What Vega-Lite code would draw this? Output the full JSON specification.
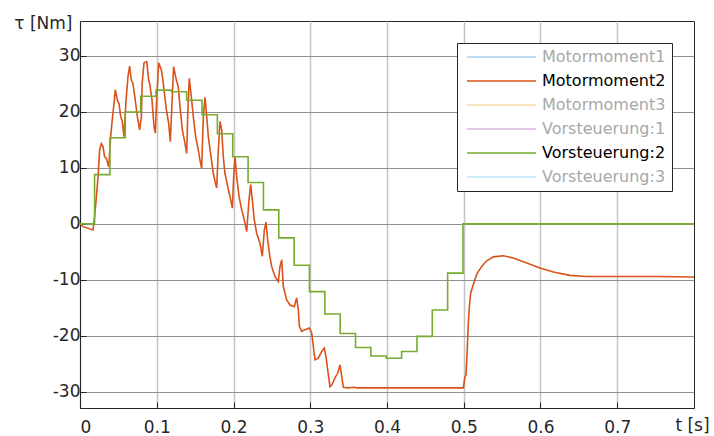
{
  "$schema": "https://vega.github.io/schema/vega-lite/v6.json",
  "width": 614,
  "height": 387,
  "autosize": {"type": "none"},
  "padding": {"left": 80, "top": 21, "right": 20, "bottom": 28},
  "background": "white",
  "config": {
    "font": "DejaVu Sans",
    "view": {"stroke": "#262626", "strokeWidth": 1},
    "axis": {
      "labelFont": "DejaVu Sans", "labelFontSize": 17, "labelColor": "#262626",
      "titleFont": "DejaVu Sans", "titleFontSize": 17, "titleFontWeight": "normal", "titleColor": "#262626",
      "domainColor": "#262626", "domainWidth": 1, "tickColor": "#262626", "tickWidth": 1
    }
  },
  "datasets": {
    "motor": [
      {"t":0,"v":0.1},{"t":0.004,"v":-0.5},{"t":0.017,"v":-1.1},{"t":0.019,"v":1.3},{"t":0.021,"v":4.3},
      {"t":0.0235,"v":8.4},{"t":0.0256,"v":13.2},{"t":0.0278,"v":14.3},{"t":0.030,"v":13.8},{"t":0.032,"v":12.0},
      {"t":0.0343,"v":11.7},{"t":0.0374,"v":10.2},{"t":0.040,"v":15.6},{"t":0.042,"v":18.6},{"t":0.0443,"v":21.5},
      {"t":0.046,"v":24.0},{"t":0.0486,"v":22.1},{"t":0.0508,"v":21.5},{"t":0.053,"v":19.2},{"t":0.0551,"v":18.3},
      {"t":0.0573,"v":15.6},{"t":0.060,"v":22.1},{"t":0.0625,"v":26.3},{"t":0.0647,"v":28.2},{"t":0.0668,"v":25.7},
      {"t":0.069,"v":25.1},{"t":0.072,"v":22.1},{"t":0.0747,"v":19.2},{"t":0.0777,"v":16.8},{"t":0.080,"v":19.2},
      {"t":0.081,"v":25.1},{"t":0.0834,"v":28.8},{"t":0.0869,"v":29.0},{"t":0.0895,"v":25.7},{"t":0.0908,"v":25.1},
      {"t":0.0938,"v":22.1},{"t":0.0964,"v":17.4},{"t":0.0981,"v":16.2},{"t":0.0999,"v":22.1},{"t":0.1025,"v":28.8},
      {"t":0.106,"v":27.5},{"t":0.108,"v":25.7},{"t":0.1125,"v":20.4},{"t":0.1155,"v":18.0},{"t":0.1177,"v":14.7},
      {"t":0.120,"v":22.1},{"t":0.122,"v":28.1},{"t":0.1255,"v":25.7},{"t":0.128,"v":24.5},{"t":0.1303,"v":20.9},
      {"t":0.1333,"v":16.8},{"t":0.1368,"v":14.4},{"t":0.139,"v":12.6},{"t":0.1403,"v":19.2},{"t":0.1424,"v":26.0},
      {"t":0.1446,"v":23.3},{"t":0.1476,"v":19.2},{"t":0.1507,"v":15.6},{"t":0.1541,"v":13.2},{"t":0.1563,"v":11.4},
      {"t":0.1585,"v":9.9},{"t":0.1607,"v":19.2},{"t":0.1629,"v":22.6},{"t":0.1651,"v":19.2},{"t":0.1672,"v":15.6},
      {"t":0.1707,"v":12.0},{"t":0.1737,"v":9.0},{"t":0.1759,"v":7.6},{"t":0.1781,"v":6.4},{"t":0.1802,"v":13.2},
      {"t":0.1824,"v":18.3},{"t":0.1846,"v":16.8},{"t":0.1867,"v":12.0},{"t":0.1889,"v":9.0},{"t":0.1924,"v":6.7},
      {"t":0.1954,"v":4.9},{"t":0.1985,"v":2.8},{"t":0.2002,"v":8.4},{"t":0.202,"v":12.0},{"t":0.2042,"v":8.4},
      {"t":0.2072,"v":4.9},{"t":0.2107,"v":2.5},{"t":0.2141,"v":0.7},{"t":0.2172,"v":-1.4},{"t":0.2202,"v":4.3},
      {"t":0.2224,"v":7.0},{"t":0.2245,"v":4.3},{"t":0.2271,"v":0.7},{"t":0.2302,"v":-1.7},{"t":0.2345,"v":-3.4},
      {"t":0.2375,"v":-5.8},{"t":0.2402,"v":-1.1},{"t":0.2423,"v":0.3},{"t":0.2446,"v":-3.0},{"t":0.2476,"v":-6.0},
      {"t":0.2497,"v":-7.6},{"t":0.254,"v":-9.4},{"t":0.2584,"v":-10.3},{"t":0.2606,"v":-7.6},{"t":0.2628,"v":-6.4},
      {"t":0.2649,"v":-11.2},{"t":0.2693,"v":-13.6},{"t":0.2736,"v":-14.5},{"t":0.2792,"v":-14.8},{"t":0.2823,"v":-13.2},
      {"t":0.2845,"v":-15.4},{"t":0.2858,"v":-18.3},{"t":0.2888,"v":-19.2},{"t":0.2932,"v":-18.9},{"t":0.2988,"v":-18.6},
      {"t":0.3019,"v":-19.5},{"t":0.304,"v":-21.9},{"t":0.3062,"v":-24.3},{"t":0.3105,"v":-24.0},{"t":0.3149,"v":-22.8},
      {"t":0.3183,"v":-22.2},{"t":0.3205,"v":-23.7},{"t":0.3227,"v":-26.1},{"t":0.3257,"v":-29.1},{"t":0.3279,"v":-28.8},
      {"t":0.33,"v":-28.2},{"t":0.3331,"v":-27.3},{"t":0.3357,"v":-26.7},{"t":0.3388,"v":-25.2},{"t":0.341,"v":-27.3},
      {"t":0.3431,"v":-29.2},{"t":0.3496,"v":-29.3},{"t":0.3574,"v":-29.2},{"t":0.36,"v":-29.3},{"t":0.4995,"v":-29.3},
      {"t":0.5016,"v":-27.3},{"t":0.503,"v":-27.0},{"t":0.5047,"v":-21.9},{"t":0.506,"v":-17.7},{"t":0.5073,"v":-14.8},
      {"t":0.509,"v":-12.4},{"t":0.5117,"v":-11.2},{"t":0.5147,"v":-9.9},{"t":0.5177,"v":-8.8},{"t":0.5234,"v":-7.6},
      {"t":0.5299,"v":-6.6},{"t":0.5385,"v":-5.9},{"t":0.5516,"v":-5.7},{"t":0.5646,"v":-6.1},{"t":0.582,"v":-7.0},
      {"t":0.5993,"v":-7.9},{"t":0.6167,"v":-8.6},{"t":0.6384,"v":-9.2},{"t":0.66,"v":-9.4},{"t":0.70,"v":-9.4},
      {"t":0.75,"v":-9.4},{"t":0.80,"v":-9.5}
    ],
    "vor": [
      {"t":0,"v":0},{"t":0.019,"v":8.8},{"t":0.039,"v":15.4},{"t":0.059,"v":20.0},{"t":0.079,"v":22.8},
      {"t":0.099,"v":23.9},{"t":0.119,"v":23.6},{"t":0.139,"v":22.1},{"t":0.159,"v":19.5},{"t":0.179,"v":16.1},
      {"t":0.199,"v":12.0},{"t":0.219,"v":7.4},{"t":0.239,"v":2.5},{"t":0.259,"v":-2.5},{"t":0.279,"v":-7.4},
      {"t":0.299,"v":-12.1},{"t":0.319,"v":-16.1},{"t":0.339,"v":-19.6},{"t":0.359,"v":-22.1},{"t":0.379,"v":-23.6},
      {"t":0.399,"v":-24.0},{"t":0.419,"v":-22.8},{"t":0.439,"v":-20.1},{"t":0.459,"v":-15.4},{"t":0.479,"v":-8.8},
      {"t":0.499,"v":0},{"t":0.8,"v":0}
    ]
  },
  "encoding": {
    "x": {
      "field": "t", "type": "quantitative",
      "scale": {"domain": [0, 0.8], "nice": false, "zero": false},
      "axis": {
        "values": [0, 0.1, 0.2, 0.3, 0.4, 0.5, 0.6, 0.7],
        "labelExpr": "datum.value + ''",
        "grid": true, "gridColor": "#c4c4c4", "gridWidth": 1.5,
        "tickSize": -6, "labelPadding": 17,
        "title": "t [s]", "titleX": 612, "titleY": 22, "titleAlign": "center", "titleBaseline": "alphabetic"
      }
    },
    "y": {
      "field": "v", "type": "quantitative",
      "scale": {"domain": [-32.9, 36.25], "nice": false, "zero": false},
      "axis": {
        "values": [-30, -20, -10, 0, 10, 20, 30],
        "labelExpr": "datum.value + ''",
        "grid": true, "gridColor": "#909090", "gridWidth": 1,
        "tickSize": -6, "labelPadding": 6,
        "title": "τ [Nm]", "titleAngle": 0, "titleX": -8, "titleY": 7, "titleAlign": "right", "titleBaseline": "alphabetic"
      }
    }
  },
  "layer": [
    {
      "data": {"name": "motor"},
      "mark": {"type": "line", "strokeWidth": 1.6, "clip": true},
      "encoding": {
        "color": {
          "datum": "Motormoment2", "type": "nominal",
          "scale": {
            "domain": ["Motormoment1", "Motormoment2", "Motormoment3", "Vorsteuerung:1", "Vorsteuerung:2", "Vorsteuerung:3"],
            "range": ["#a9cfec", "#D95319", "#f6dca8", "#d9b3dc", "#77AC30", "#bce6f8"]
          },
          "legend": {
            "title": null,
            "orient": "top-right",
            "offset": 22,
            "symbolType": "M-1,0H16.25",
            "symbolSize": 64,
            "symbolStrokeWidth": 1.5,
            "labelFont": "DejaVu Sans",
            "labelFontSize": 16,
            "labelOffset": 63,
            "labelLimit": 300,
            "rowPadding": 8,
            "padding": 6,
            "fillColor": "white",
            "strokeColor": "#262626",
            "encode": {
              "labels": {
                "update": {
                  "fill": {"signal": "datum.label === 'Motormoment2' || datum.label === 'Vorsteuerung:2' ? '#000000' : '#a8a8a8'"}
                }
              }
            }
          }
        }
      }
    },
    {
      "data": {"name": "vor"},
      "mark": {"type": "line", "strokeWidth": 1.6, "interpolate": "step-after", "clip": true},
      "encoding": {
        "color": {"datum": "Vorsteuerung:2", "type": "nominal"}
      }
    }
  ]
}
